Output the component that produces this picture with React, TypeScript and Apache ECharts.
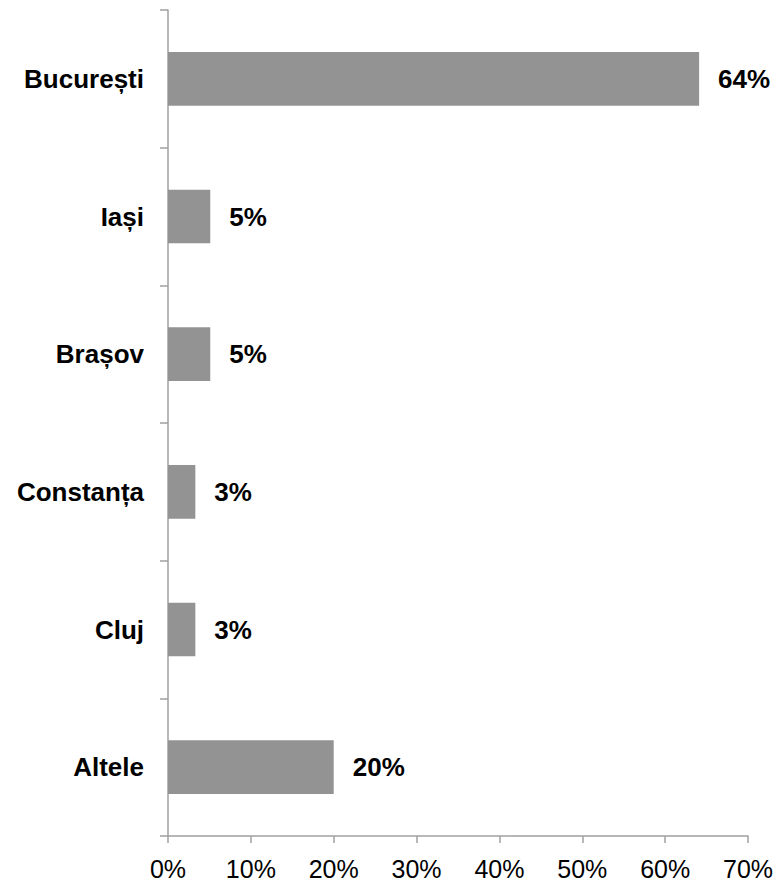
import React, { useEffect, useRef } from "react";
import * as echarts from "echarts";

const categories = ["București", "Iași", "Brașov", "Constanța", "Cluj", "Altele"];
const values = [64.1, 5.1, 5.1, 3.3, 3.3, 20.0];
const xTicks = { min: 0, max: 70, interval: 10 };

const FONT = "'Liberation Sans', Arial, Helvetica, sans-serif";
const AXIS_COLOR = "#a0a0a0";

export default function App() {
  const ref = useRef<HTMLDivElement>(null);
  useEffect(() => {
    if (!ref.current) return;
    const chart = echarts.init(ref.current, undefined, { renderer: "svg" });
    chart.setOption({
      animation: false,
      backgroundColor: "#ffffff",
      grid: { left: 168, right: 30, top: 10, bottom: 46, containLabel: false },
      xAxis: {
        type: "value",
        min: xTicks.min,
        max: xTicks.max,
        interval: xTicks.interval,
        axisLine: { show: true, lineStyle: { color: AXIS_COLOR, width: 1.5 } },
        axisTick: { show: true, length: 7, lineStyle: { color: AXIS_COLOR, width: 1.5 } },
        splitLine: { show: false },
        axisLabel: {
          formatter: "{value}%",
          color: "#000",
          fontFamily: FONT,
          fontSize: 25,
          margin: 20,
        },
      },
      yAxis: {
        type: "category",
        data: categories,
        inverse: true,
        axisLine: { show: true, lineStyle: { color: AXIS_COLOR, width: 1.5 } },
        axisTick: { show: true, length: 8, alignWithLabel: false, lineStyle: { color: AXIS_COLOR, width: 1.5 } },
        axisLabel: {
          color: "#000",
          fontFamily: FONT,
          fontSize: 26,
          fontWeight: "bold",
          margin: 24,
        },
      },
      series: [
        {
          type: "bar",
          data: values,
          barWidth: "39%",
          itemStyle: { color: "#939393" },
          label: {
            show: true,
            position: "right",
            distance: 19,
            color: "#000",
            fontFamily: FONT,
            fontSize: 26,
            fontWeight: "bold",
            formatter: (p: any) => Math.round(p.value) + "%",
          },
        },
      ],
    });
    return () => chart.dispose();
  }, []);
  return <div ref={ref} style={{ width: 778, height: 882, position: "absolute", left: 0, top: 0 }} />;
}
